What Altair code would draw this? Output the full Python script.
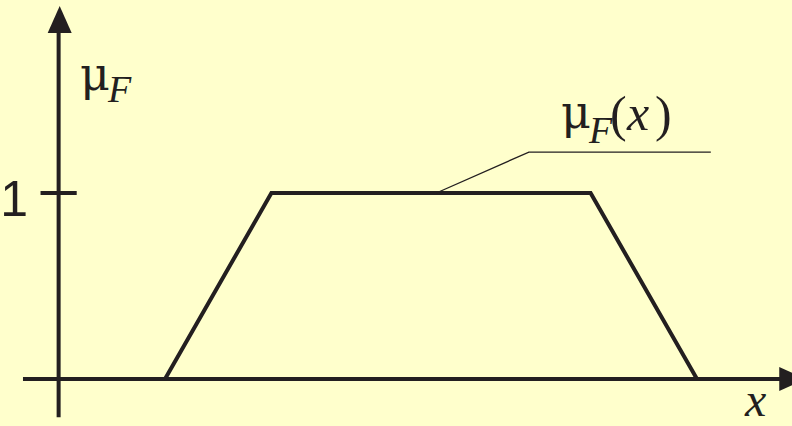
import altair as alt
import pandas as pd

# Trapezoidal membership function mu_F(x)
trap_x = [1, 2, 5, 6]
trap_mu = [0, 1, 1, 0]

# Leader line from the plateau to the curve label
leader_x = [3.55, 4.42, 6.13]
leader_y = [1.0, 1.22, 1.22]

# Axis extents (data units)
x_axis_from, x_axis_to = -0.335, 6.83
y_axis_from, y_axis_to = -0.205, 1.93
tick_value = 1
tick_half = 0.17

INK = "#231F20"
BG = "#FFFFCC"
W, H = 792, 426

xs = alt.Scale(domain=[-0.551, 6.893], nice=False, zero=False)
ys = alt.Scale(domain=[-0.2527, 2.0376], nice=False, zero=False)

trap = pd.DataFrame({"x": trap_x, "mu": trap_mu})
leader = pd.DataFrame({"x": leader_x, "mu": leader_y, "o": range(len(leader_x))})

curve = alt.Chart(trap).mark_line(color=INK, strokeWidth=4, strokeJoin="miter").encode(
    x=alt.X("x:Q", scale=xs, axis=None),
    y=alt.Y("mu:Q", scale=ys, axis=None),
)

lead = alt.Chart(leader).mark_line(color=INK, strokeWidth=1.3).encode(
    x=alt.X("x:Q", scale=xs, axis=None),
    y=alt.Y("mu:Q", scale=ys, axis=None),
    order="o:O",
)

axes_df = pd.DataFrame({
    "x": [x_axis_from, 0, -tick_half],
    "x2": [x_axis_to, 0, tick_half],
    "y": [0, y_axis_from, tick_value],
    "y2": [0, y_axis_to, tick_value],
})
axes = alt.Chart(axes_df).mark_rule(color=INK, strokeWidth=4).encode(
    x=alt.X("x:Q", scale=xs, axis=None), x2="x2:Q",
    y=alt.Y("y:Q", scale=ys, axis=None), y2="y2:Q",
)

arrow_up = alt.Chart(pd.DataFrame({"x": [0.01], "y": [1.933]})).mark_point(
    shape="M0,-1L0.89,1L-0.89,1Z", size=729, filled=True, color=INK, opacity=1
).encode(x=alt.X("x:Q", scale=xs, axis=None), y=alt.Y("y:Q", scale=ys, axis=None))

arrow_right = alt.Chart(pd.DataFrame({"x": [6.90], "y": [0]})).mark_point(
    shape="M1,0L-1,0.89L-1,-0.89Z", size=729, filled=True, color=INK, opacity=1
).encode(x=alt.X("x:Q", scale=xs, axis=None), y=alt.Y("y:Q", scale=ys, axis=None))


def label(text, px, py, size, font="Liberation Serif", style="normal", align="left"):
    return alt.Chart(pd.DataFrame({"t": [text]})).mark_text(
        font=font, fontSize=size, fontStyle=style, color=INK,
        align=align, baseline="alphabetic",
    ).encode(x=alt.value(px), y=alt.value(py), text="t:N")


texts = [
    label("1", 28, 216, 50, font="Liberation Sans", align="right"),
    # y-axis name
    label("μ", 80, 90, 46, font="DejaVu Serif"),
    label("F", 108, 102, 38, style="italic"),
    # curve label
    label("μ", 561, 128, 46, font="DejaVu Serif"),
    label("F", 589, 143, 38, style="italic"),
    label("(", 610, 131, 50),
    label("x", 627, 130, 50, style="italic"),
    label(")", 655, 131, 50),
    # x-axis name
    label("x", 745, 416, 48, style="italic"),
]

chart = alt.layer(curve, lead, axes, arrow_up, arrow_right, *texts).properties(
    width=W, height=H, background=BG, padding=0,
    autosize=alt.AutoSizeParams(type="none"),
).configure_view(stroke=None)

chart.save("out.html", embed_options={"renderer": "svg", "actions": False})
